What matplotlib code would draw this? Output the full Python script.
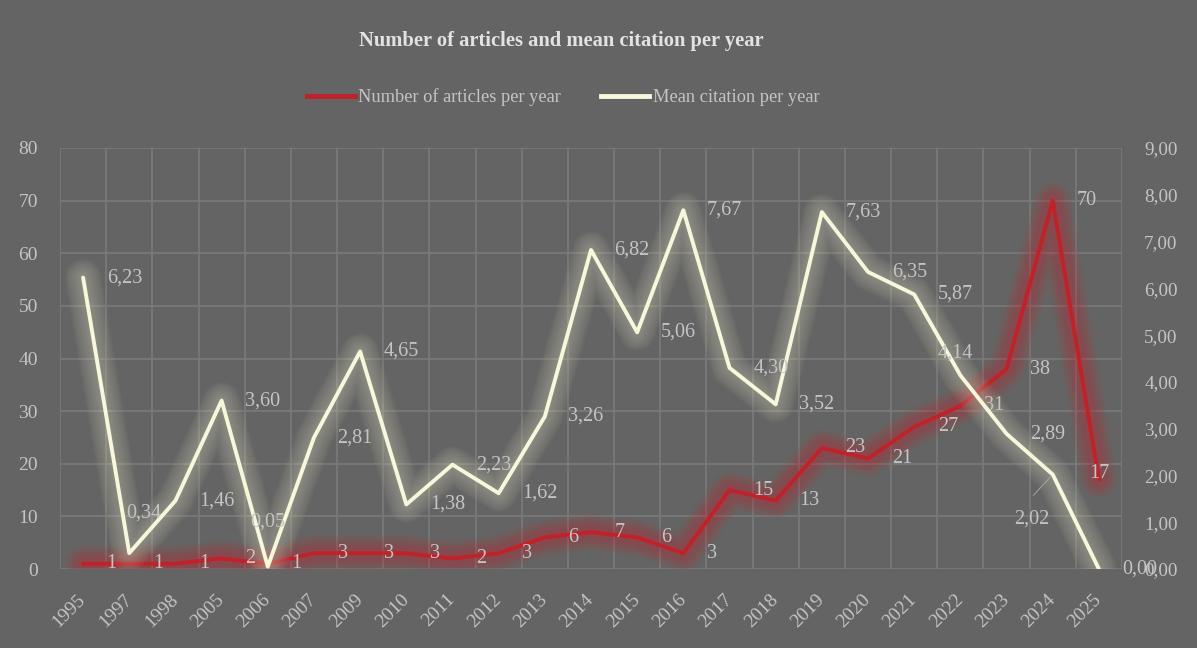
import numpy as np
import matplotlib
matplotlib.use("Agg")
import matplotlib.pyplot as plt
from matplotlib.lines import Line2D

years = ['1995', '1997', '1998', '2005', '2006', '2007', '2009', '2010', '2011', '2012', '2013', '2014',
         '2015', '2016', '2017', '2018', '2019', '2020', '2021', '2022', '2023', '2024', '2025']
articles = [1, 1, 1, 2, 1, 3, 3, 3, 2, 3, 6, 7, 6, 3, 15, 13, 23, 21, 27, 31, 38, 70, 17]
mean_citation = [6.23, 0.34, 1.46, 3.60, 0.05, 2.81, 4.65, 1.38, 2.23, 1.62, 3.26, 6.82, 5.06, 7.67,
                 4.30, 3.52, 7.63, 6.35, 5.87, 4.14, 2.89, 2.02, 0.00]
left_ticks = [0, 10, 20, 30, 40, 50, 60, 70, 80]
right_ticks = [0, 1, 2, 3, 4, 5, 6, 7, 8, 9]

BG = '#646464'
GRID = '#7a7a7a'
TXT = '#c4c4c4'
RED = '#c0222a'
CREAM = '#f7f7dc'

plt.rcParams['font.family'] = ['Liberation Serif', 'DejaVu Serif']

fig = plt.figure(figsize=(11.97, 6.48), dpi=100, facecolor=BG)
ax = fig.add_axes([60 / 1197, 1 - 569 / 648, 1062 / 1197, 421 / 648])
ax.set_facecolor(BG)
ax2 = ax.twinx()

x = np.arange(len(years))


def glow_line(axis, xs, ys, color, glow_color, lw=2.8, z=3, alpha=0.03):
    # soft halo: stack wide transparent lines under the main one
    for w in np.linspace(lw + 2, lw + 24, 16):
        axis.plot(xs, ys, color=glow_color, lw=w, alpha=alpha, solid_joinstyle='round',
                  solid_capstyle='round', zorder=z)
    axis.plot(xs, ys, color=color, lw=lw, solid_joinstyle='round', solid_capstyle='round', zorder=z + 1)


glow_line(ax, x, articles, RED, '#c8303a', alpha=0.035)
glow_line(ax2, x, mean_citation, CREAM, '#deddc0', alpha=0.028)

ax.set_xlim(-0.5, len(years) - 0.5)
ax.set_ylim(0, 80)
ax2.set_ylim(0, 9)

ax.set_yticks(left_ticks)
ax.set_yticklabels([str(t) for t in left_ticks])
ax2.set_yticks(right_ticks)
ax2.set_yticklabels([f"{t:.2f}".replace('.', ',') for t in right_ticks])
ax.set_xticks(x)
ax.set_xticklabels(years, rotation=45, ha='right', va='center', rotation_mode='anchor')

ax.set_xticks(np.arange(-0.5, len(years), 1), minor=True)
ax.grid(True, which='minor', axis='x', color=GRID, lw=1.2)
ax.grid(True, which='major', axis='y', color=GRID, lw=1.2)
ax.grid(False, which='major', axis='x')
ax.set_axisbelow(True)

for a in (ax, ax2):
    for s in a.spines.values():
        s.set_visible(False)
    a.tick_params(which='both', length=0, colors=TXT, labelsize=14)
ax.tick_params(axis='y', pad=16)
ax.tick_params(axis='x', pad=20)
ax2.tick_params(axis='y', pad=16, labelsize=13.8)

# data labels, articles
for i, v in enumerate(articles):
    if i == len(articles) - 1:
        ax.annotate(str(v), (i, v), xytext=(0, 4), textcoords='offset points', ha='center', va='center',
                    color=TXT, fontsize=14.5, zorder=10)
    else:
        ax.annotate(str(v), (i, v), xytext=(17, 0), textcoords='offset points', ha='left', va='center',
                    color=TXT, fontsize=14.5, zorder=10)

# data labels, mean citation
special = {1: (-2, 29, 'left'), 4: (0, 32, 'center'), 19: (-4, 16, 'center'), 21: (-15, -32, 'center')}
for i, v in enumerate(mean_citation):
    lab = f"{v:.2f}".replace('.', ',')
    dx, dy, ha = special.get(i, (17, 0, 'left'))
    ax2.annotate(lab, (i, v), xytext=(dx, dy), textcoords='offset points', ha=ha, va='center',
                 color=TXT, fontsize=14.5, zorder=10)
# leader line for 2024
ax2.annotate('', xy=(21, mean_citation[21]), xytext=(-14, -15), textcoords='offset points',
             arrowprops=dict(arrowstyle='-', color='#a0a0a0', lw=0.8, shrinkA=0, shrinkB=2), zorder=9)

fig.text(561 / 1197, 1 - 41 / 648, 'Number of articles and mean citation per year', ha='center', va='center',
         fontsize=14.8, fontweight='bold', color='#e2e2e2')

handles = [Line2D([0], [0], color=RED, lw=3.5), Line2D([0], [0], color=CREAM, lw=3.5)]
fig.legend(handles, ['Number of articles per year', 'Mean citation per year'], loc='center',
           bbox_to_anchor=(563 / 1197, 1 - 97 / 648), ncol=2, frameon=False, fontsize=13.2,
           labelcolor=TXT, handlelength=2.6, handletextpad=0.2, columnspacing=2.2)

fig.savefig('out.png', dpi=100, facecolor=BG)
